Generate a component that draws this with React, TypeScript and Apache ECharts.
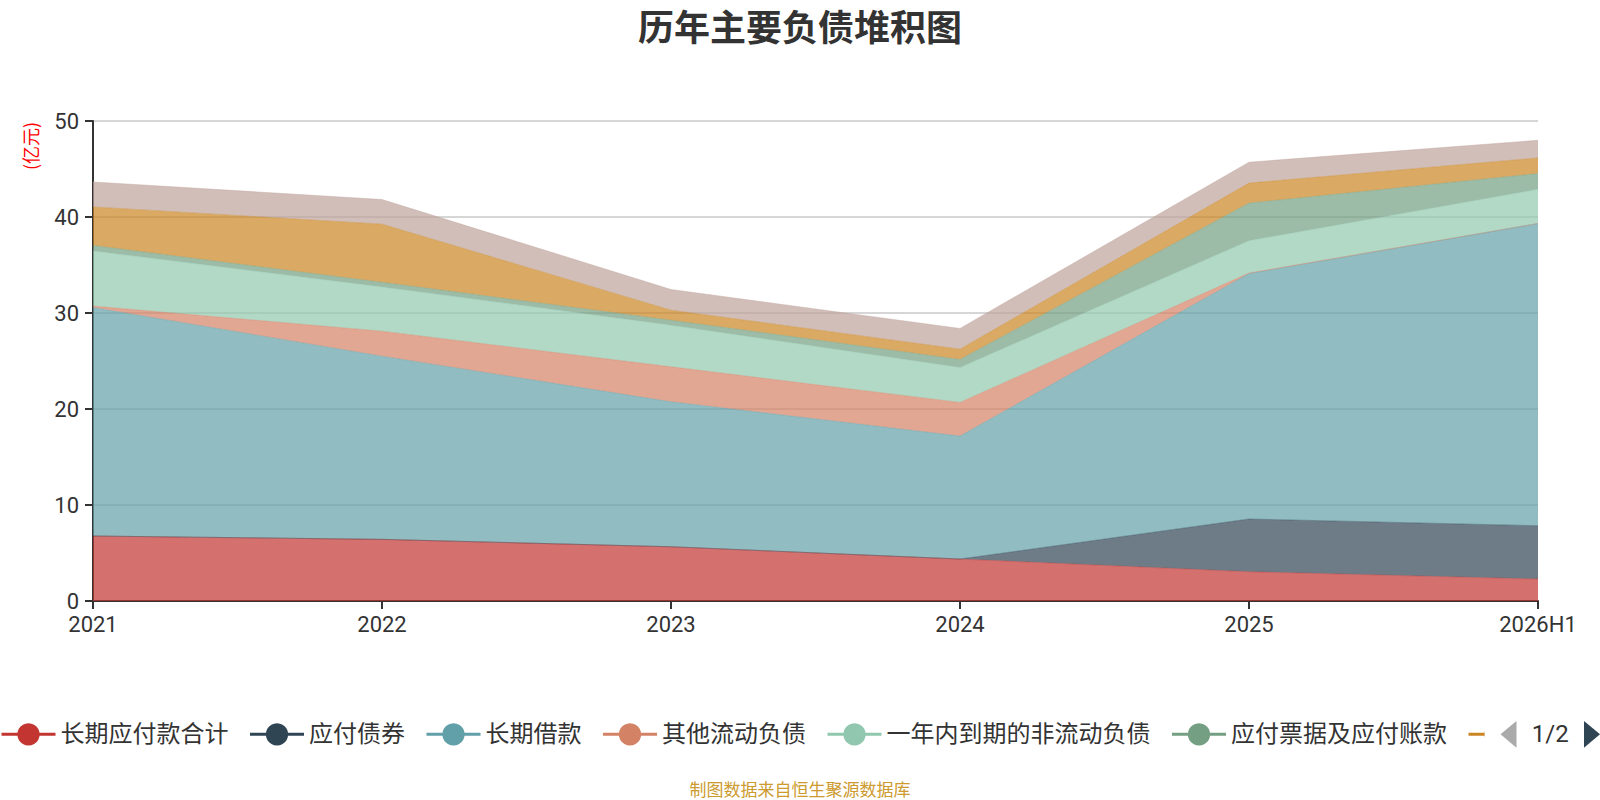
import { useEffect, useRef } from "react";
import * as echarts from "echarts";

// 年份
const years = ["2021", "2022", "2023", "2024", "2025", "2026H1"];

// 各项负债（亿元）
const longPayable = [6.77, 6.42, 5.65, 4.37, 3.05, 2.29];
const bonds = [0, 0, 0, 0, 5.49, 5.55];
const longLoans = [23.8, 19.08, 15.1, 12.81, 25.57, 31.48];
const otherCurrent = [0.15, 2.6, 3.64, 3.5, 0.05, 0];
const dueWithinYear = [5.75, 4.62, 4.34, 3.65, 3.37, 3.57];
const notesPayable = [0.56, 0.48, 0.52, 0.83, 3.92, 1.63];
const shortLoans = [4.02, 6.05, 1.04, 1.07, 2.08, 1.63];
const otherPayable = [2.6, 2.57, 2.16, 2.16, 2.18, 1.84];

const seriesNames = [
  "长期应付款合计",
  "应付债券",
  "长期借款",
  "其他流动负债",
  "一年内到期的非流动负债",
  "应付票据及应付账款",
  "短期借款",
  "其他应付款合计",
];
const seriesData = [
  longPayable,
  bonds,
  longLoans,
  otherCurrent,
  dueWithinYear,
  notesPayable,
  shortLoans,
  otherPayable,
];

const yTicks = [0, 10, 20, 30, 40, 50];

const colors = [
  "#c23531",
  "#2f4554",
  "#61a0a8",
  "#d48265",
  "#91c7ae",
  "#749f83",
  "#ca8622",
  "#bda29a",
];

function App() {
  const chartRef = useRef<HTMLDivElement>(null);

  useEffect(() => {
    const chart = echarts.init(chartRef.current, null, { renderer: "svg" });

    const option = {
      animation: false,
      color: colors,
      textStyle: { fontFamily: "Roboto, 'Noto Sans CJK SC', sans-serif" },
      title: {
        text: "历年主要负债堆积图",
        left: "center",
        top: 6,
        textStyle: { fontSize: 36, fontWeight: "bold", color: "#333" },
      },
      legend: {
        type: "scroll",
        left: 0,
        right: 0,
        top: 721,
        padding: 0,
        itemWidth: 54,
        itemHeight: 28,
        itemGap: 20,
        lineStyle: { width: 3, opacity: 1 },
        textStyle: { fontSize: 24, color: "#333" },
        pageIconSize: [16, 28],
        pageIconColor: "#2f4554",
        pageIconInactiveColor: "#aaa",
        pageButtonGap: 16,
        pageTextStyle: { fontSize: 24, color: "#333" },
        data: seriesNames,
      },
      grid: { left: 93, right: 62, top: 121, bottom: 199 },
      xAxis: {
        type: "category",
        boundaryGap: false,
        data: years,
        axisLine: { lineStyle: { color: "#333", width: 2 } },
        axisTick: { length: 8, lineStyle: { color: "#333", width: 2 } },
        axisLabel: { fontSize: 22, color: "#333", margin: 12 },
      },
      yAxis: {
        type: "value",
        min: yTicks[0],
        max: yTicks[yTicks.length - 1],
        interval: 10,
        axisLine: { show: true, lineStyle: { color: "#333", width: 2 } },
        axisTick: { show: true, length: 8, lineStyle: { color: "#333", width: 2 } },
        axisLabel: { fontSize: 22, color: "#333", margin: 14 },
        splitLine: { lineStyle: { color: "#c8c8c8", width: 1.5 } },
      },
      graphic: [
        {
          type: "text",
          x: 30,
          y: 146,
          rotation: Math.PI / 2,
          style: {
            text: "(亿元)",
            fill: "#ff0000",
            fontSize: 18,
            fontFamily: "'Noto Sans CJK SC', sans-serif",
            align: "center",
            verticalAlign: "middle",
          },
        },
        {
          type: "text",
          x: 800,
          y: 788,
          style: {
            text: "制图数据来自恒生聚源数据库",
            fill: "#cc9a2e",
            fontSize: 17,
            fontFamily: "'Noto Sans CJK SC', sans-serif",
            align: "center",
            verticalAlign: "middle",
          },
        },
      ],
      series: seriesNames.map((name, i) => ({
        name,
        type: "line",
        stack: "total",
        data: seriesData[i],
        symbol: "circle",
        showSymbol: false,
        lineStyle: { width: 1, opacity: 0.4 },
        areaStyle: { opacity: 0.7 },
        emphasis: { disabled: true },
      })),
    };

    chart.setOption(option);

    return () => {
      chart.dispose();
    };
  }, []);

  return (
    <div
      ref={chartRef}
      style={{ position: "fixed", left: 0, top: 0, width: "1600px", height: "800px", background: "#fff" }}
    ></div>
  );
}

export default App;
